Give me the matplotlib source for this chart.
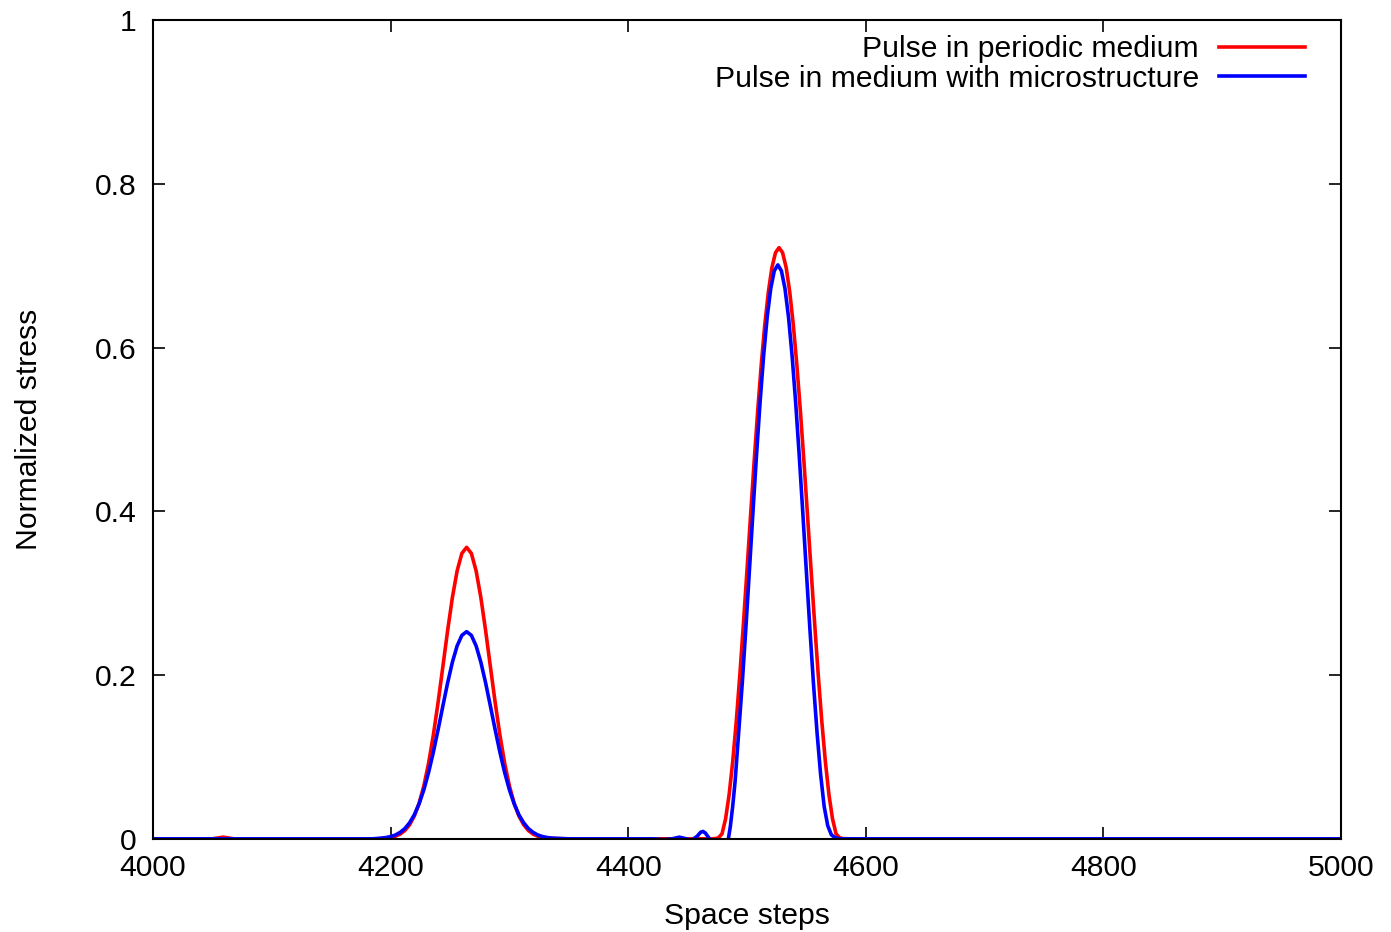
import matplotlib
matplotlib.use("Agg")
import matplotlib.pyplot as plt

plt.rcParams.update({
    'font.family': ['Liberation Sans', 'DejaVu Sans'],
    'font.size': 21.7,
    'axes.linewidth': 1.5,
    'xtick.direction': 'in',
    'ytick.direction': 'in',
    'xtick.major.size': 8.5,
    'ytick.major.size': 8.5,
    'xtick.major.width': 1.2,
    'ytick.major.width': 1.2,
})

# Pulse in periodic medium (red)
red_x = [4000, 4050, 4059, 4068, 4190,
         4196, 4200, 4204, 4208, 4212, 4216, 4220, 4224, 4228, 4232, 4236, 4240,
         4244, 4248, 4252, 4256, 4260, 4264, 4268, 4272, 4276, 4280, 4284, 4288,
         4292, 4296, 4300, 4304, 4308, 4312, 4316, 4320, 4324, 4328, 4332, 4345,
         4400, 4470, 4473, 4476, 4479, 4482, 4485, 4488, 4491, 4494, 4497, 4500,
         4503, 4506, 4509, 4512, 4515, 4518, 4521, 4524, 4527, 4530, 4533, 4536,
         4539, 4542, 4545, 4548, 4551, 4554, 4557, 4560, 4563, 4566, 4569, 4572,
         4575, 4578, 4581, 4586, 5000]
red_y = [0.0, 0.0, 0.002, 0.0, 0.0,
         0.0008, 0.0016, 0.0031, 0.0057, 0.0101, 0.0172, 0.0279, 0.0434, 0.0647, 0.0925, 0.1269, 0.1668,
         0.2103, 0.2542, 0.2946, 0.3272, 0.3486, 0.356, 0.3486, 0.3272, 0.2946, 0.2542, 0.2103, 0.1668,
         0.1269, 0.0925, 0.0647, 0.0434, 0.0279, 0.0172, 0.0101, 0.0057, 0.0031, 0.0016, 0.0008, 0.0,
         0.0, 0.0, 0.0002, 0.0012, 0.0061, 0.0244, 0.0541, 0.0942, 0.1434, 0.2001, 0.2622, 0.3276,
         0.3943, 0.4598, 0.5219, 0.5786, 0.6278, 0.6679, 0.6976, 0.7158, 0.722, 0.7158, 0.6976, 0.6679,
         0.6278, 0.5786, 0.5219, 0.4598, 0.3943, 0.3276, 0.2622, 0.2001, 0.1434, 0.0942, 0.0541, 0.0244,
         0.0061, 0.0012, 0.0002, 0.0, 0.0]

# Pulse in medium with microstructure (blue)
blue_x = [4000, 4185,
          4192, 4196, 4200, 4204, 4208, 4212, 4216, 4220, 4224, 4228, 4232, 4236, 4240,
          4244, 4248, 4252, 4256, 4260, 4264, 4268, 4272, 4276, 4280, 4284, 4288,
          4292, 4296, 4300, 4304, 4308, 4312, 4316, 4320, 4324, 4328, 4332, 4336, 4350,
          4420, 4430, 4437, 4443, 4449, 4453, 4458, 4461, 4463, 4465, 4468, 4472,
          4476, 4480, 4484, 4486, 4488, 4490, 4493, 4496, 4499, 4502, 4505, 4508,
          4511, 4514, 4517, 4520, 4523, 4526, 4529, 4532, 4535, 4538, 4541, 4544,
          4547, 4550, 4553, 4556, 4559, 4562, 4565, 4568, 4571, 4574, 4578, 5000]
blue_y = [0.0, 0.0,
          0.0008, 0.0015, 0.0027, 0.0046, 0.0078, 0.0125, 0.0196, 0.0294, 0.0428, 0.0599, 0.0811, 0.1059, 0.1334,
          0.1622, 0.1904, 0.2156, 0.2356, 0.2485, 0.253, 0.2485, 0.2356, 0.2156, 0.1904, 0.1622, 0.1334,
          0.1059, 0.0811, 0.0599, 0.0428, 0.0294, 0.0196, 0.0125, 0.0078, 0.0046, 0.0027, 0.0015, 0.0008, 0.0,
          0.0, -0.001, 0.0, 0.002, 0.0, -0.002, 0.003, 0.008, 0.009, 0.007, 0.001, -0.012,
          -0.018, -0.012, -0.003, 0.015, 0.040, 0.070, 0.1295, 0.1893, 0.2557, 0.3265, 0.3982, 0.4679,
          0.5327, 0.5897, 0.6369, 0.6720, 0.6937, 0.701, 0.6937, 0.6720, 0.6369, 0.5897, 0.5327, 0.4679,
          0.3982, 0.3265, 0.2557, 0.1893, 0.1295, 0.0786, 0.0393, 0.016, 0.005, 0.0015, 0.0, 0.0]

x_ticks = [4000, 4200, 4400, 4600, 4800, 5000]
y_ticks = [0, 0.2, 0.4, 0.6, 0.8, 1]
y_tick_labels = ['0', '0.2', '0.4', '0.6', '0.8', '1']

fig = plt.figure(figsize=(13.91, 9.32), dpi=100)
ax = fig.add_axes([0.110, 0.100, 0.854, 0.8785])

ax.plot(red_x, red_y, color='#ff0000', lw=2.6, label='Pulse in periodic medium')
ax.plot(blue_x, blue_y, color='#0000ff', lw=2.6, label='Pulse in medium with microstructure')

ax.set_xlim(4000, 5000)
ax.set_ylim(0, 1)
ax.set_xticks(x_ticks)
ax.set_xticklabels([str(t) for t in x_ticks])
ax.set_yticks(y_ticks)
ax.set_yticklabels(y_tick_labels)
ax.tick_params(top=True, right=True, pad=12)
ax.tick_params(axis='x', pad=11)

ax.set_xlabel('Space steps', labelpad=14)
ax.set_ylabel('Normalized stress', labelpad=37)

ax.legend(loc='upper right', bbox_to_anchor=(0.977, 0.9927), frameon=False,
          markerfirst=False, handlelength=2.83, handletextpad=0.67,
          labelspacing=0.05, borderaxespad=0.0, borderpad=0.3)

fig.savefig('out.png', dpi=100)
